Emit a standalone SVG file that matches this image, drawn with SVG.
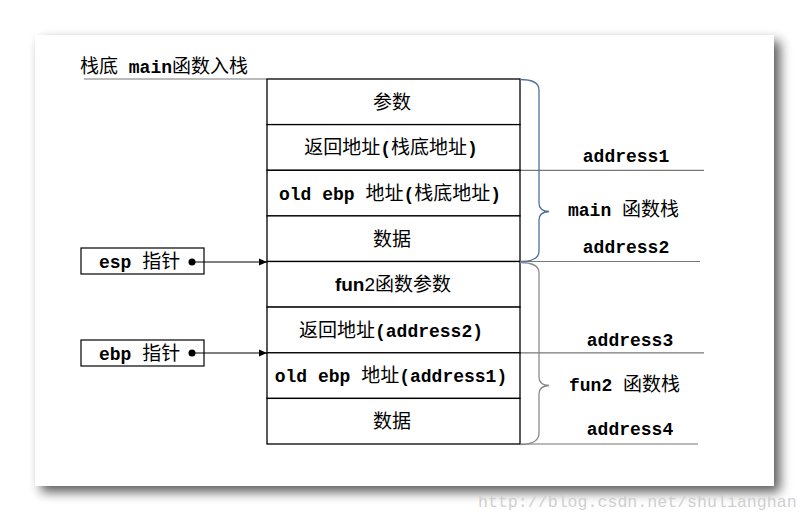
<svg xmlns="http://www.w3.org/2000/svg" width="809" height="521" viewBox="0 0 809 521">
<defs>
<style>
.m{font-family:"Liberation Mono","Courier New",monospace;font-weight:bold;font-size:18px}
.c{font-family:"Noto Sans CJK SC","Noto Sans",sans-serif;font-weight:normal;font-size:19px}
.s{font-family:"Liberation Sans",Arial,sans-serif;font-weight:bold;font-size:19px}
.n{font-family:"Liberation Sans",Arial,sans-serif;font-weight:normal;font-size:19px}
text{fill:#000}
.cell{fill:#fff;stroke:#000;stroke-width:1.3}
.box{fill:#fff;stroke:#000;stroke-width:1.2}
.guide{stroke:#777;stroke-width:1.2;fill:none}
.brace{fill:none;stroke-width:1.3}
.ptr{stroke:#000;stroke-width:1.2;fill:none;marker-end:url(#ah)}
</style>
<filter id="sh" x="-10%" y="-10%" width="125%" height="130%">
<feGaussianBlur in="SourceAlpha" stdDeviation="6"/>
<feOffset dx="6" dy="6" result="b"/>
<feComponentTransfer><feFuncA type="linear" slope="0.65"/></feComponentTransfer>
</filter>
<marker id="ah" viewBox="0 0 8 8" refX="8" refY="4" markerWidth="8" markerHeight="8" markerUnits="userSpaceOnUse" orient="auto">
<path d="M0,0.5 L8,4 L0,7.5 Z" fill="#000"/>
</marker>
</defs>
<rect width="809" height="521" fill="#fff"/>
<rect x="35" y="35" width="739" height="451" fill="#000" filter="url(#sh)"/>
<rect x="35" y="35" width="739" height="451" fill="#fff"/>

<g id="title">
<text x="80" y="73"><tspan class="c">栈底</tspan><tspan class="m"> main</tspan><tspan class="c">函数入栈</tspan></text>
</g>

<g id="guides">
<line class="guide" x1="84" y1="79" x2="267" y2="79"/>
<line class="guide" x1="520" y1="170.3" x2="704" y2="170.3"/>
<line class="guide" x1="520" y1="261.5" x2="700" y2="261.5"/>
<line class="guide" x1="520" y1="352.8" x2="704" y2="352.8"/>
<line class="guide" x1="520" y1="444" x2="698" y2="444"/>
</g>

<g id="stack">
<g id="row1"><rect class="cell" x="267" y="79" width="253" height="45.6"/><text x="392" y="109" text-anchor="middle"><tspan class="c">参数</tspan></text></g>
<g id="row2"><rect class="cell" x="267" y="124.6" width="253" height="45.7"/><text x="391" y="154" text-anchor="middle"><tspan class="c">返回地址</tspan><tspan class="m">(</tspan><tspan class="c">栈底地址</tspan><tspan class="m">)</tspan></text></g>
<g id="row3"><rect class="cell" x="267" y="170.3" width="253" height="45.6"/><text x="390" y="200" text-anchor="middle"><tspan class="m">old ebp </tspan><tspan class="c">地址</tspan><tspan class="m">(</tspan><tspan class="c">栈底地址</tspan><tspan class="m">)</tspan></text></g>
<g id="row4"><rect class="cell" x="267" y="215.9" width="253" height="45.6"/><text x="392" y="246" text-anchor="middle"><tspan class="c">数据</tspan></text></g>
<g id="row5"><rect class="cell" x="267" y="261.5" width="253" height="45.6"/><text x="393" y="291" text-anchor="middle"><tspan class="s">fun</tspan><tspan class="n">2</tspan><tspan class="c">函数参数</tspan></text></g>
<g id="row6"><rect class="cell" x="267" y="307.1" width="253" height="45.7"/><text x="391" y="337" text-anchor="middle"><tspan class="c">返回地址</tspan><tspan class="m">(address2)</tspan></text></g>
<g id="row7"><rect class="cell" x="267" y="352.8" width="253" height="45.6"/><text x="391" y="382" text-anchor="middle"><tspan class="m">old ebp </tspan><tspan class="c">地址</tspan><tspan class="m">(address1)</tspan></text></g>
<g id="row8"><rect class="cell" x="267" y="398.4" width="253" height="45.6"/><text x="392" y="428" text-anchor="middle"><tspan class="c">数据</tspan></text></g>
</g>

<g id="esp">
<rect class="box" x="81" y="248" width="123" height="26"/>
<text x="99" y="268"><tspan class="m">esp </tspan><tspan class="c">指针</tspan></text>
<circle cx="192" cy="262" r="3.5" fill="#000"/>
</g>
<g id="ebp">
<rect class="box" x="81" y="340" width="123" height="26"/>
<text x="99" y="360"><tspan class="m">ebp </tspan><tspan class="c">指针</tspan></text>
<circle cx="192" cy="353" r="3.5" fill="#000"/>
</g>

<g id="connectors">
<line class="ptr" x1="192" y1="262" x2="267" y2="262"/>
<line class="ptr" x1="192" y1="353" x2="267" y2="353"/>
<path class="brace" stroke="#50709c" d="M520,79.5 Q539,79.5 539,90 L539,203 Q539,211 549,211.5 Q539,212 539,220 L539,251 Q539,261.5 520,261.5"/>
<path class="brace" stroke="#8a8a8a" d="M520,262.5 Q539,262.5 539,273 L539,377 Q539,385 549,385.5 Q539,386 539,394 L539,433 Q539,444.5 520,444.5"/>
</g>

<g id="main-label">
<text x="626" y="162" text-anchor="middle" class="m">address1</text>
<text x="568" y="216"><tspan class="m">main </tspan><tspan class="c">函数栈</tspan></text>
<text x="626" y="253" text-anchor="middle" class="m">address2</text>
</g>
<g id="fun2-label">
<text x="630" y="346" text-anchor="middle" class="m">address3</text>
<text x="569" y="391"><tspan class="m">fun2 </tspan><tspan class="c">函数栈</tspan></text>
<text x="630" y="435" text-anchor="middle" class="m">address4</text>
</g>

<text x="478" y="507" style="font-family:'Liberation Mono','Courier New',monospace;font-size:16.6px;fill:#cfcfcf">http://blog.csdn.net/shulianghan</text>
</svg>
